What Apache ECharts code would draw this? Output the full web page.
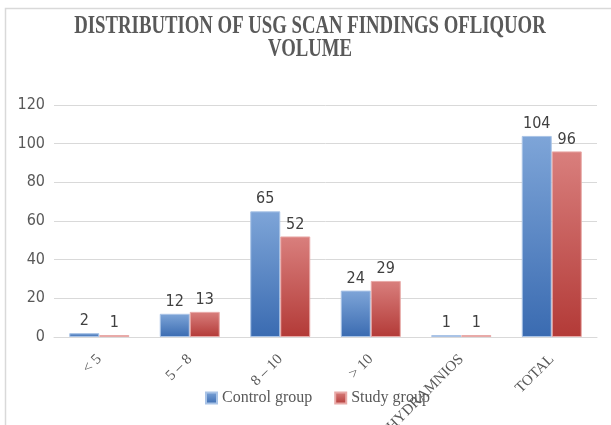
<!DOCTYPE html>
<html>
<head>
<meta charset="utf-8">
<script src="https://cdn.jsdelivr.net/npm/echarts@6/dist/echarts.min.js"></script>
<style>html,body{margin:0;padding:0;background:#fff;}#c{width:611px;height:425px;}</style>
</head>
<body>
<div id="c"></div>
<script>
var categories = ['< 5', '5 – 8', '8 – 10', '> 10', 'POLYHYDRAMNIOS', 'TOTAL'];
var controlGroup = [2, 12, 65, 24, 1, 104];
var studyGroup = [1, 13, 52, 29, 1, 96];
var yTicks = [0, 20, 40, 60, 80, 100, 120];
var titleLines = ['DISTRIBUTION OF USG SCAN FINDINGS OFLIQUOR', 'VOLUME'];

var numFont = '"Liberation Sans Narrow", "DejaVu Sans Condensed", "Liberation Sans", sans-serif';
var serifFont = '"Liberation Serif", "DejaVu Serif", serif';

function grad(top, bottom) {
  return new echarts.graphic.LinearGradient(0, 0, 0, 1, [
    {offset: 0, color: top}, {offset: 1, color: bottom}
  ]);
}

var chart = echarts.init(document.getElementById('c'), null, {renderer: 'canvas'});
chart.setOption({
  backgroundColor: '#ffffff',
  animation: false,
  graphic: [
    {type: 'rect', z: -10, shape: {x: 5.5, y: 8.5, width: 640, height: 450},
     style: {fill: '#ffffff', stroke: '#d9d9d9', lineWidth: 1.5}},
    {type: 'text', x: 310, y: 15, scaleX: 0.75, originX: 0, originY: 0,
     style: {text: titleLines.join('\n'), font: 'bold 25px ' + serifFont, fill: '#595959',
             textAlign: 'center', textVerticalAlign: 'top', lineHeight: 23}}
  ],
  legend: {
    left: 205, top: 390, padding: 0, itemWidth: 11, itemHeight: 11, itemGap: 22, icon: 'rect',
    textStyle: {fontFamily: serifFont, fontSize: 16, color: '#595959'},
    data: ['Control group', 'Study group']
  },
  grid: {left: 54, right: 14, top: 105, bottom: 88, containLabel: false, outerBoundsMode: 'none'},
  xAxis: {
    type: 'category', data: categories,
    axisLine: {lineStyle: {color: '#d9d9d9', width: 1}},
    axisTick: {show: false},
    axisLabel: {interval: 0, rotate: 45, margin: 20, fontFamily: serifFont, fontSize: 15, color: '#595959'}
  },
  yAxis: {
    type: 'value', min: 0, max: 120, interval: 20,
    axisLine: {show: false}, axisTick: {show: false},
    axisLabel: {margin: 9, fontFamily: numFont, fontSize: 16, color: '#595959',
      formatter: function (v) { return yTicks.indexOf(v) >= 0 ? String(v) : ''; }},
    splitLine: {lineStyle: {color: '#d9d9d9', width: 1}}
  },
  series: [
    {name: 'Control group', type: 'bar', data: controlGroup, barWidth: 30, barGap: '0%',
     itemStyle: {color: grad('#7ea5d8', '#3a6bb1'), borderColor: '#a9c3e6', borderWidth: 1},
     label: {show: true, position: 'top', distance: 4, fontFamily: numFont, fontSize: 16, color: '#404040'}},
    {name: 'Study group', type: 'bar', data: studyGroup, barWidth: 30,
     itemStyle: {color: grad('#d97f7d', '#b33a37'), borderColor: '#e8a9a7', borderWidth: 1},
     label: {show: true, position: 'top', distance: 4, fontFamily: numFont, fontSize: 16, color: '#404040'}}
  ]
});
</script>
</body>
</html>
